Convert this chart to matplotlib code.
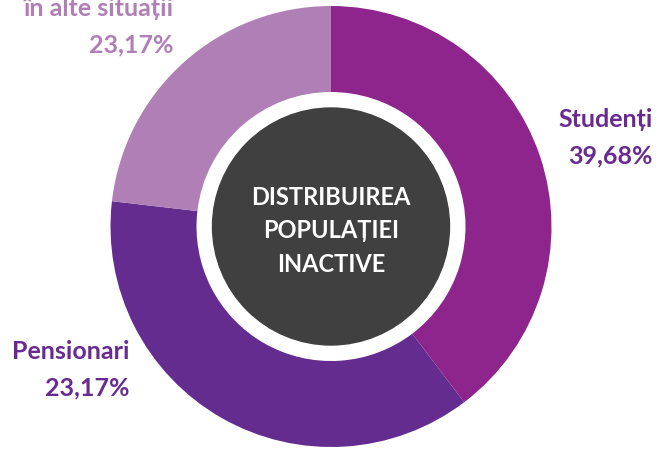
import matplotlib
matplotlib.use("Agg")
import matplotlib.pyplot as plt
from matplotlib.patches import Circle

categories = ["Studenți", "Pensionari", "în alte situații"]
values = [39.68, 37.15, 23.17]
value_labels = ["39,68%", "23,17%", "23,17%"]
colors = ["#8e258d", "#652c90", "#b07fb6"]
text_colors = ["#6a2b90", "#6a2b90", "#b07fb6"]
center_title = "DISTRIBUIREA\nPOPULAȚIEI\nINACTIVE"

W, H = 660, 451
fig = plt.figure(figsize=(W / 100, H / 100), dpi=100)
ax = fig.add_axes([0, 0, 1, 1])

cx, cy = 331, H - 226.5
R_out, R_in, R_dark = 220.5, 134.5, 118.5

ax.pie(values, colors=colors, startangle=90, counterclock=False,
       center=(cx, cy), radius=R_out,
       wedgeprops=dict(width=R_out - R_in, linewidth=0))
ax.add_patch(Circle((cx, cy), R_dark, color="#404040", zorder=5))
ax.set_xlim(0, W)
ax.set_ylim(0, H)
ax.set_aspect("equal")
ax.axis("off")

fam = ["Lato", "DejaVu Sans"]
center_baselines = [205, 238.5, 272]
for line, yb in zip(center_title.split("\n"), center_baselines):
    ax.text(cx, H - yb, line, ha="center", va="baseline", color="white",
            fontsize=17, fontweight="bold", family=fam, zorder=6)

# label positions (pixel coords of right edge / baselines)
pos = [(653, 127, 163), (130, 359, 395), (173, 16, 52)]
for name, vl, col, (xr, y1, y2) in zip(categories, value_labels, text_colors, pos):
    ax.text(xr, H - y1, name, ha="right", va="baseline", color=col,
            fontsize=18, fontweight="bold", family=fam)
    ax.text(xr, H - y2, vl, ha="right", va="baseline", color=col,
            fontsize=18, fontweight="bold", family=fam)

fig.savefig("out.png", dpi=100)
